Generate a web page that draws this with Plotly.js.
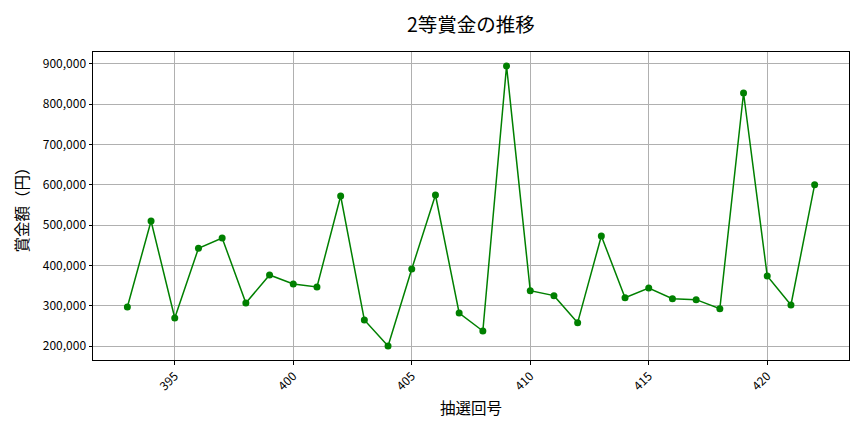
<!DOCTYPE html>
<html>
<head>
<meta charset="utf-8">
<script src="https://cdn.plot.ly/plotly-3.0.1.min.js"></script>
<style>html,body{margin:0;padding:0;background:#fff;}#chart{width:864px;height:432px;}</style>
</head>
<body>
<div id="chart"></div>
<script>
const rounds = [393,394,395,396,397,398,399,400,401,402,403,404,405,406,407,408,409,410,411,412,413,414,415,416,417,418,419,420,421,422];
const prizes = [296800,510300,269500,442500,468100,306800,376300,353900,346500,572300,264600,200000,391100,574800,281900,237200,895000,337400,325000,257900,473100,320000,344000,317500,315000,292700,828000,373800,301800,600500];
const titleText = '2等賞金の推移';
const xTitle = '抽選回号';
const yTitle = '賞金額（円）';

const font = 'Noto Sans CJK JP, Noto Sans, DejaVu Sans, sans-serif';
const xmin = Math.min(...rounds), xmax = Math.max(...rounds);
const ymin = Math.min(...prizes), ymax = Math.max(...prizes);
const xp = (xmax - xmin) * 0.05, yp = (ymax - ymin) * 0.05;

Plotly.newPlot('chart', [{
  x: rounds, y: prizes, type: 'scatter', mode: 'lines+markers',
  line: {color: '#008000', width: 1.5},
  marker: {color: '#008000', size: 7}
}], {
  width: 864, height: 432,
  margin: {l: 93, r: 15, t: 52, b: 72},
  paper_bgcolor: '#fff', plot_bgcolor: '#fff',
  font: {family: font, color: '#000'},
  title: {text: titleText, x: 0.545, xanchor: 'center', y: 0.942, yanchor: 'middle', font: {size: 19.5, family: font}},
  showlegend: false,
  xaxis: {
    range: [xmin - xp, xmax + xp], tick0: 395, dtick: 5, tickangle: -45,
    showgrid: true, gridcolor: '#b0b0b0', gridwidth: 1,
    showline: true, linecolor: '#000', linewidth: 1, mirror: true,
    ticks: 'outside', ticklen: 3.5, tickcolor: '#000',
    tickfont: {size: 12, family: font}, zeroline: false,
    title: {text: xTitle, font: {size: 15.5, family: font}, standoff: 10}
  },
  yaxis: {
    range: [ymin - yp, ymax + yp], tick0: 0, dtick: 100000, tickformat: ',d',
    showgrid: true, gridcolor: '#b0b0b0', gridwidth: 1,
    showline: true, linecolor: '#000', linewidth: 1, mirror: true,
    ticks: 'outside', ticklen: 3.5, tickcolor: '#000',
    tickfont: {size: 12, family: font}, zeroline: false,
    title: {text: yTitle, font: {size: 15.5, family: font}, standoff: 10}
  }
}, {staticPlot: true});
</script>
</body>
</html>
